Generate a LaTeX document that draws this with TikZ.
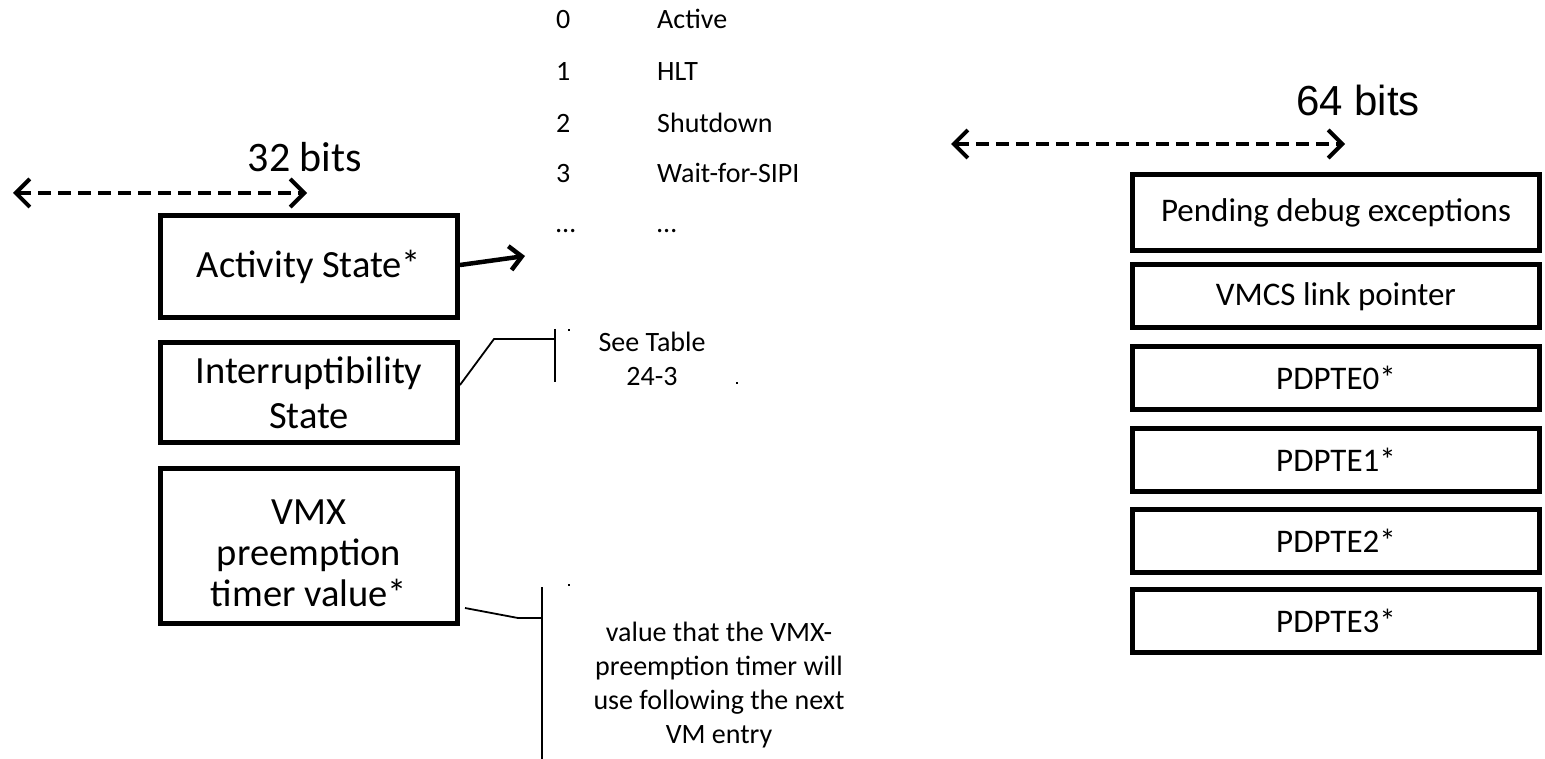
\documentclass[tikz,border=0pt]{standalone}
\usepackage{fontspec}
\setmainfont{Carlito}
\newfontfamily\arialf{Liberation Sans}
\usetikzlibrary{arrows.meta}
\begin{document}
\begin{tikzpicture}[x=1pt,y=-1pt,
  box/.style={draw,line width=5pt,inner sep=0pt,align=center},
  lbox/.style={box,minimum width=297pt,font=\fontsize{38.5}{45}\selectfont},
  rbox/.style={box,minimum width=407pt,font=\fontsize{33}{40}\selectfont},
  small/.style={font=\fontsize{28}{34}\selectfont,inner sep=0pt,align=center},
  bigtxt/.style={inner sep=0pt},
  dimarrow/.style={line width=4pt,dash pattern=on 13pt off 7pt,{Straight Barb[length=14pt,width=28pt]}-{Straight Barb[length=14pt,width=28pt]}},
  thinline/.style={line width=1.8pt},
  speck/.style={fill=black,inner sep=0pt,minimum size=1.5pt,draw=none}]
\useasboundingbox (0,0) rectangle (1545,759);

% bit-width arrows
\node[bigtxt,anchor=base,font=\fontsize{42}{50}\selectfont] (b32) at (305,172) {32 bits};
\coordinate (l32) at (13,193);
\coordinate (r32) at (307,193);
\draw[dimarrow] (l32) -- (r32);
\node[bigtxt,anchor=base,font=\arialf\fontsize{42}{50}\selectfont] (b64) at (1358,116) {64 bits};
\coordinate (l64) at (951,144);
\coordinate (r64) at (1345,144);
\draw[dimarrow] (l64) -- (r64);

% left boxes
\node[lbox,minimum height=102pt] (act) at (309,266.5) {Activity State*};
\node[lbox,minimum height=100pt] (intr) at (309,392.5) {Interruptibility\\State};
\node[lbox,minimum height=155pt] (vmx) at (309,546) {};
\node[align=center,inner sep=0pt,font=\fontsize{38.5}{41}\selectfont] (vmxt) at (309,553) {VMX\\preemption\\timer value*};

% right boxes
\node[rbox,minimum height=76pt] (pde) at (1336,212.5) {Pending debug exceptions};
\node[rbox,minimum height=63pt] (vlp) at (1336,296.5) {VMCS link pointer};
\node[rbox,minimum height=63pt] (p0) at (1336,378) {PDPTE0*};
\node[rbox,minimum height=63pt] (p1) at (1336,459.5) {PDPTE1*};
\node[rbox,minimum height=63pt] (p2) at (1336,540.5) {PDPTE2*};
\node[rbox,minimum height=63pt] (p3) at (1336,621) {PDPTE3*};

% activity state list
\node[small,anchor=base west] (n0) at (556,29) {0};
\node[small,anchor=base west] (s0) at (657,29) {Active};
\node[small,anchor=base west] (n1) at (556,81) {1};
\node[small,anchor=base west] (s1) at (657,81) {HLT};
\node[small,anchor=base west] (n2) at (556,133) {2};
\node[small,anchor=base west] (s2) at (657,133) {Shutdown};
\node[small,anchor=base west] (n3) at (556,183) {3};
\node[small,anchor=base west] (s3) at (657,183) {Wait-for-SIPI};
\node[small,anchor=base west] (n4) at (556,233) {…};
\node[small,anchor=base west] (s4) at (657,233) {…};

\coordinate (actend) at (525,256);
\draw[line width=4.5pt,-{Straight Barb[length=12pt,width=24pt]}] ([yshift=1.5pt]act.east) -- (actend);

% interruptibility callout
\node[small] (seet) at (652,359) {See Table\\24-3};
\coordinate (ib) at (494,339);
\coordinate (ic) at (555,339);
\coordinate (it) at (555,329);
\coordinate (ibot) at (555,382);
\draw[thinline] ([yshift=7.5pt]intr.east) -- (ib) -- (ic);
\draw[thinline] (it) -- (ibot);
\node[speck] (d1) at (569,330) {};
\node[speck] (d2) at (737,383) {};

% vmx callout
\node[small] (vtxt) at (719,685) {value that the VMX-\\preemption timer will\\use following the next\\VM entry};
\coordinate (vb) at (518,618);
\coordinate (vc) at (542,618);
\coordinate (vt) at (542,587);
\coordinate (vbot) at (542,759);
\draw[thinline] ([xshift=5pt,yshift=-62pt]vmx.east) -- (vb) -- (vc);
\draw[thinline] (vt) -- (vbot);
\node[speck] (d3) at (569,585) {};
\end{tikzpicture}
\end{document}
